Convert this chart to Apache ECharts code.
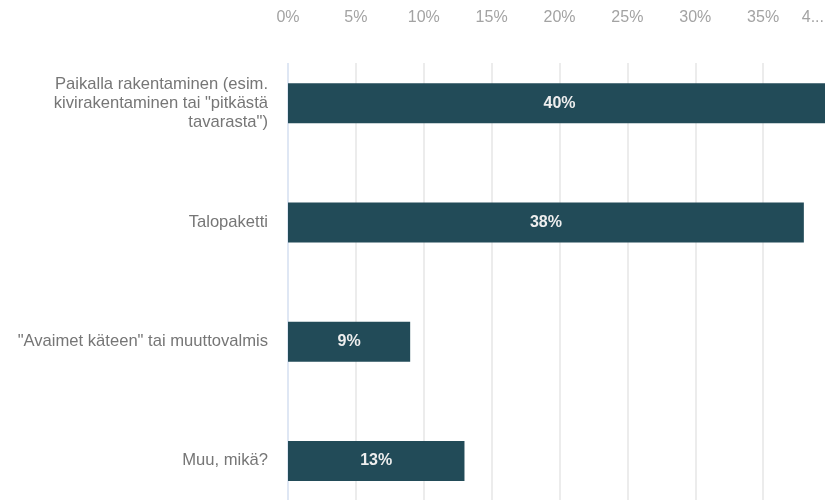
<!DOCTYPE html>
<html>
<head>
<meta charset="utf-8">
<script src="https://cdn.jsdelivr.net/npm/echarts@6/dist/echarts.min.js"></script>
<style>
  html, body { margin: 0; padding: 0; background: #fff; }
  #chart { width: 825px; height: 500px; }
</style>
</head>
<body>
<div id="chart"></div>
<script>
const categories = [
  'Paikalla rakentaminen (esim.\nkivirakentaminen tai "pitkästä\ntavarasta")',
  'Talopaketti',
  '"Avaimet käteen" tai muuttovalmis',
  'Muu, mikä?'
]
const values = [40, 38, 9, 13]
const tickLabels = ['0%', '5%', '10%', '15%', '20%', '25%', '30%', '35%', '4...']

const font = '"Liberation Sans", Arial, sans-serif'
const chart = echarts.init(document.getElementById('chart'))

// the plot runs a little past the right edge (the 40% end is cut off)
chart.setOption({
  animation: false,
  textStyle: { fontFamily: font },
  grid: [
    { left: 288, width: 543, top: 43.5, height: 477, outerBoundsMode: 'none' },
    { left: 288, width: 543, top: 63, height: 437, outerBoundsMode: 'none' }
  ],
  xAxis: [
    {
      gridIndex: 0,
      type: 'value',
      min: 0,
      max: 40,
      interval: 5,
      show: false
    },
    {
      gridIndex: 1,
      type: 'value',
      position: 'top',
      min: 0,
      max: 40,
      interval: 5,
      axisLine: { show: false },
      axisTick: { show: false },
      axisLabel: {
        margin: 37,
        color: '#a3a3a3',
        fontSize: 16,
        alignMaxLabel: 'right',
        formatter: (v) => {
          const i = Math.round(v / 5)
          return i === tickLabels.length - 1 ? '{last|' + tickLabels[i] + '}' : tickLabels[i]
        },
        rich: {
          last: { fontSize: 16, color: '#a3a3a3', padding: [0, 7, 0, 0] }
        }
      },
      splitLine: {
        show: true,
        lineStyle: {
          color: ['#d4dff0', '#e6e6e6', '#e6e6e6', '#e6e6e6', '#e6e6e6',
            '#e6e6e6', '#e6e6e6', '#e6e6e6', '#e6e6e6'],
          width: 1.5
        }
      }
    }
  ],
  yAxis: [
    {
      gridIndex: 0,
      type: 'category',
      inverse: true,
      data: categories,
      axisLine: { show: false },
      axisTick: { show: false },
      axisLabel: {
        margin: 20,
        color: '#767676',
        fontSize: 16.6,
        lineHeight: 19,
        align: 'right'
      }
    },
    {
      gridIndex: 1,
      type: 'value',
      show: false
    }
  ],
  series: [
    {
      type: 'bar',
      xAxisIndex: 0,
      yAxisIndex: 0,
      data: values,
      barWidth: 40,
      itemStyle: { color: '#224b58' },
      label: {
        show: true,
        position: 'inside',
        color: '#eeeeee',
        fontSize: 16,
        fontWeight: 'bold',
        formatter: '{c}%'
      }
    }
  ]
})
</script>
</body>
</html>
